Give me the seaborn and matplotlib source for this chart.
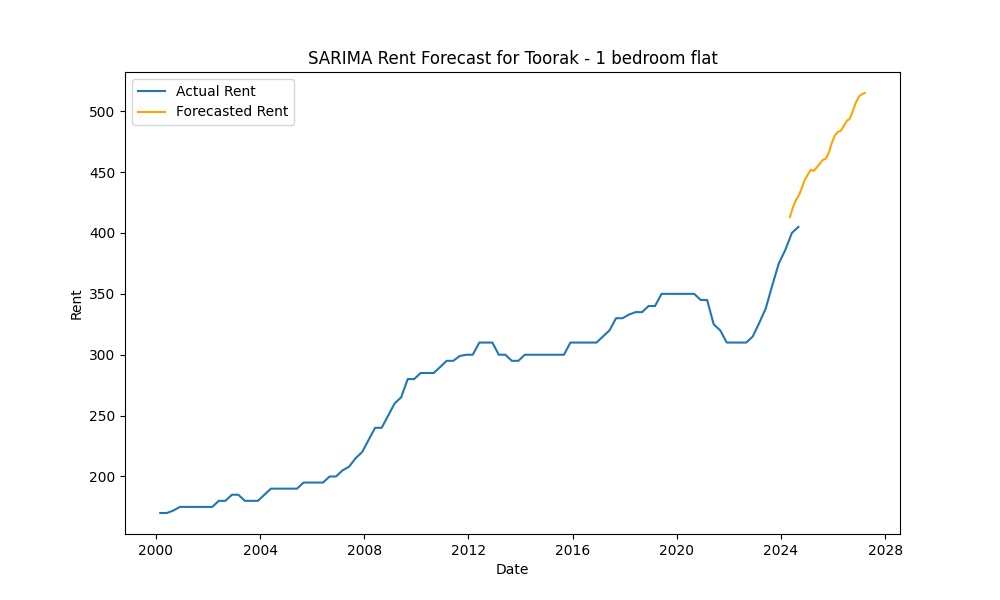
import matplotlib
matplotlib.use("Agg")
import matplotlib.pyplot as plt
import pandas as pd
import seaborn as sns

# Quarterly actual rent, 2000Q1 - 2024Q1
actual_rent = [170, 170, 172, 175,
               175, 175, 175, 175,
               175, 180, 180, 185,
               185, 180, 180, 180,
               185, 190, 190, 190,
               190, 190, 195, 195,
               195, 195, 200, 200,
               205, 208, 215, 220,
               230, 240, 240, 250,
               260, 265, 280, 280,
               285, 285, 285, 290,
               295, 295, 299, 300,
               300, 310, 310, 310,
               300, 300, 295, 295,
               300, 300, 300, 300,
               300, 300, 300, 310,
               310, 310, 310, 310,
               315, 320, 330, 330,
               333, 335, 335, 340,
               340, 350, 350, 350,
               350, 350, 350, 345,
               345, 325, 320, 310,
               310, 310, 310, 315,
               326, 338, 357, 375,
               386, 400, 405]
# Monthly forecast
forecast_rent = [413, 421, 427, 431, 437, 444, 448, 452, 451, 454, 457, 460,
                 461, 466, 474, 480, 483, 484, 488, 492, 494, 500, 507, 512,
                 514, 515]

actual_dates = pd.date_range("2000-03-01", periods=len(actual_rent), freq="QS-MAR")
forecast_dates = pd.date_range("2024-05-01", periods=len(forecast_rent), freq="6W")

df_actual = pd.DataFrame({"date": actual_dates, "rent": actual_rent})
df_fc = pd.DataFrame({"date": forecast_dates, "rent": forecast_rent})

fig, ax = plt.subplots(figsize=(10, 6))
sns.lineplot(x="date", y="rent", data=df_actual, ax=ax, color="#1f77b4", label="Actual Rent")
sns.lineplot(x="date", y="rent", data=df_fc, ax=ax, color="orange", label="Forecasted Rent")
ax.set_title("SARIMA Rent Forecast for Toorak - 1 bedroom flat")
ax.set_xlabel("Date")
ax.set_ylabel("Rent")
ax.legend(loc="upper left")

fig.savefig("out.png", dpi=100)
